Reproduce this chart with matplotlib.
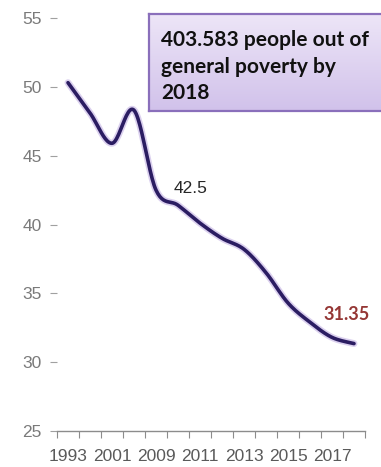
import numpy as np
import matplotlib
matplotlib.use("Agg")
import matplotlib.pyplot as plt

# ---- data ----
years = ["1993", "2000", "2001", "2004", "2009", "2010", "2011", "2012",
         "2013", "2014", "2015", "2016", "2017", "2018"]
poverty = [50.3, 48.1, 45.9, 48.3, 42.5, 41.4, 40.1, 39.0,
           38.2, 36.5, 34.3, 32.9, 31.8, 31.35]
label_every = 2
yticks = [25, 30, 35, 40, 45, 50, 55]
box_text = "403.583 people out of\ngeneral poverty by\n2018"
mid_label_index = 4
end_label_index = 13


def smooth(xs, ys, n=24):
    """Excel-style smoothed line (Bezier with Catmull-Rom control points)."""
    p = np.column_stack([xs, ys]).astype(float)
    out = [p[0]]
    for i in range(len(p) - 1):
        p0 = p[i - 1] if i > 0 else p[i]
        p1 = p[i]
        p2 = p[i + 1]
        p3 = p[i + 2] if i + 2 < len(p) else p[i + 1]
        c1 = p1 + (p2 - p0) / 6.0
        c2 = p2 - (p3 - p1) / 6.0
        t = np.linspace(0, 1, n)[1:, None]
        seg = ((1 - t) ** 3) * p1 + 3 * ((1 - t) ** 2) * t * c1 + 3 * (1 - t) * t ** 2 * c2 + t ** 3 * p2
        out.extend(seg)
    out = np.array(out)
    return out[:, 0], out[:, 1]


W, H = 381, 467
fig = plt.figure(figsize=(W / 100, H / 100), dpi=100)
fig.patch.set_facecolor("white")

L, R, T, B = 57, 365, 18, 431
ax = fig.add_axes([L / W, 1 - B / H, (R - L) / W, (B - T) / H])
ax.set_facecolor("white")

x = np.arange(len(years))
sx, sy = smooth(x, poverty)
ax.plot(sx, sy, color="#a58bd6", lw=5.0, alpha=0.4, solid_capstyle="round", zorder=2)
ax.plot(sx, sy, color="#2b1d62", lw=2.6, solid_capstyle="round", zorder=3)

ax.set_xlim(-0.5, len(years) - 0.5)
ax.set_ylim(yticks[0], yticks[-1])

for s in ["top", "right", "left"]:
    ax.spines[s].set_visible(False)
ax.spines["bottom"].set_color("#8c8c8c")
ax.spines["bottom"].set_linewidth(1.0)

ax.set_yticks(yticks)
ax.set_yticklabels([str(v) for v in yticks])
ax.tick_params(axis="y", length=5, width=0.8, color="#a0a0a0", pad=6,
               labelsize=12.5, labelcolor="#7a7a7a")

ax.set_xticks(np.arange(len(years) + 1) - 0.5)
ax.set_xticklabels([])
ax.tick_params(axis="x", which="major", length=5, width=0.8, color="#8c8c8c")
ax.set_xticks(x[::label_every], minor=True)
ax.set_xticklabels(years[::label_every], minor=True)
ax.tick_params(axis="x", which="minor", length=0, pad=13, labelsize=12.5,
               labelcolor="#5a5a5a")
for t in ax.get_xticklabels(minor=True) + ax.get_yticklabels():
    t.set_fontfamily(["Liberation Sans", "DejaVu Sans"])

# data labels
ax.annotate(f"{poverty[mid_label_index]}", (x[mid_label_index], poverty[mid_label_index]),
            xytext=(13, 1), textcoords="offset points", fontsize=12.5,
            color="#262626", va="center", ha="left", family="Liberation Sans")
ax.annotate(f"{poverty[end_label_index]}", (x[end_label_index], poverty[end_label_index]),
            xytext=(-5, 21), textcoords="offset points", fontsize=13, fontweight="bold",
            color="#953735", va="center", ha="center", family="Lato")

# callout box with gradient
bx0, by0, bx1, by1 = 149, 14, 395, 111
bax = fig.add_axes([bx0 / W, 1 - by1 / H, (bx1 - bx0) / W, (by1 - by0) / H])
grad = np.linspace(0, 1, 100)[:, None]
top_c = np.array([0.93, 0.90, 0.97])
bot_c = np.array([0.82, 0.76, 0.92])
img = top_c[None, None, :] * (1 - grad[:, :, None]) + bot_c[None, None, :] * grad[:, :, None]
bax.imshow(img, aspect="auto", extent=[0, 1, 0, 1], origin="upper")
bax.set_xticks([])
bax.set_yticks([])
for s in bax.spines.values():
    s.set_color("#8a6fbb")
    s.set_linewidth(1.6)
fig.text(161 / W, 1 - 30 / H, box_text, fontsize=15, fontweight="bold",
         family="Lato", color="#111111", va="top", ha="left", linespacing=1.42)

fig.savefig("out.png", dpi=100)
